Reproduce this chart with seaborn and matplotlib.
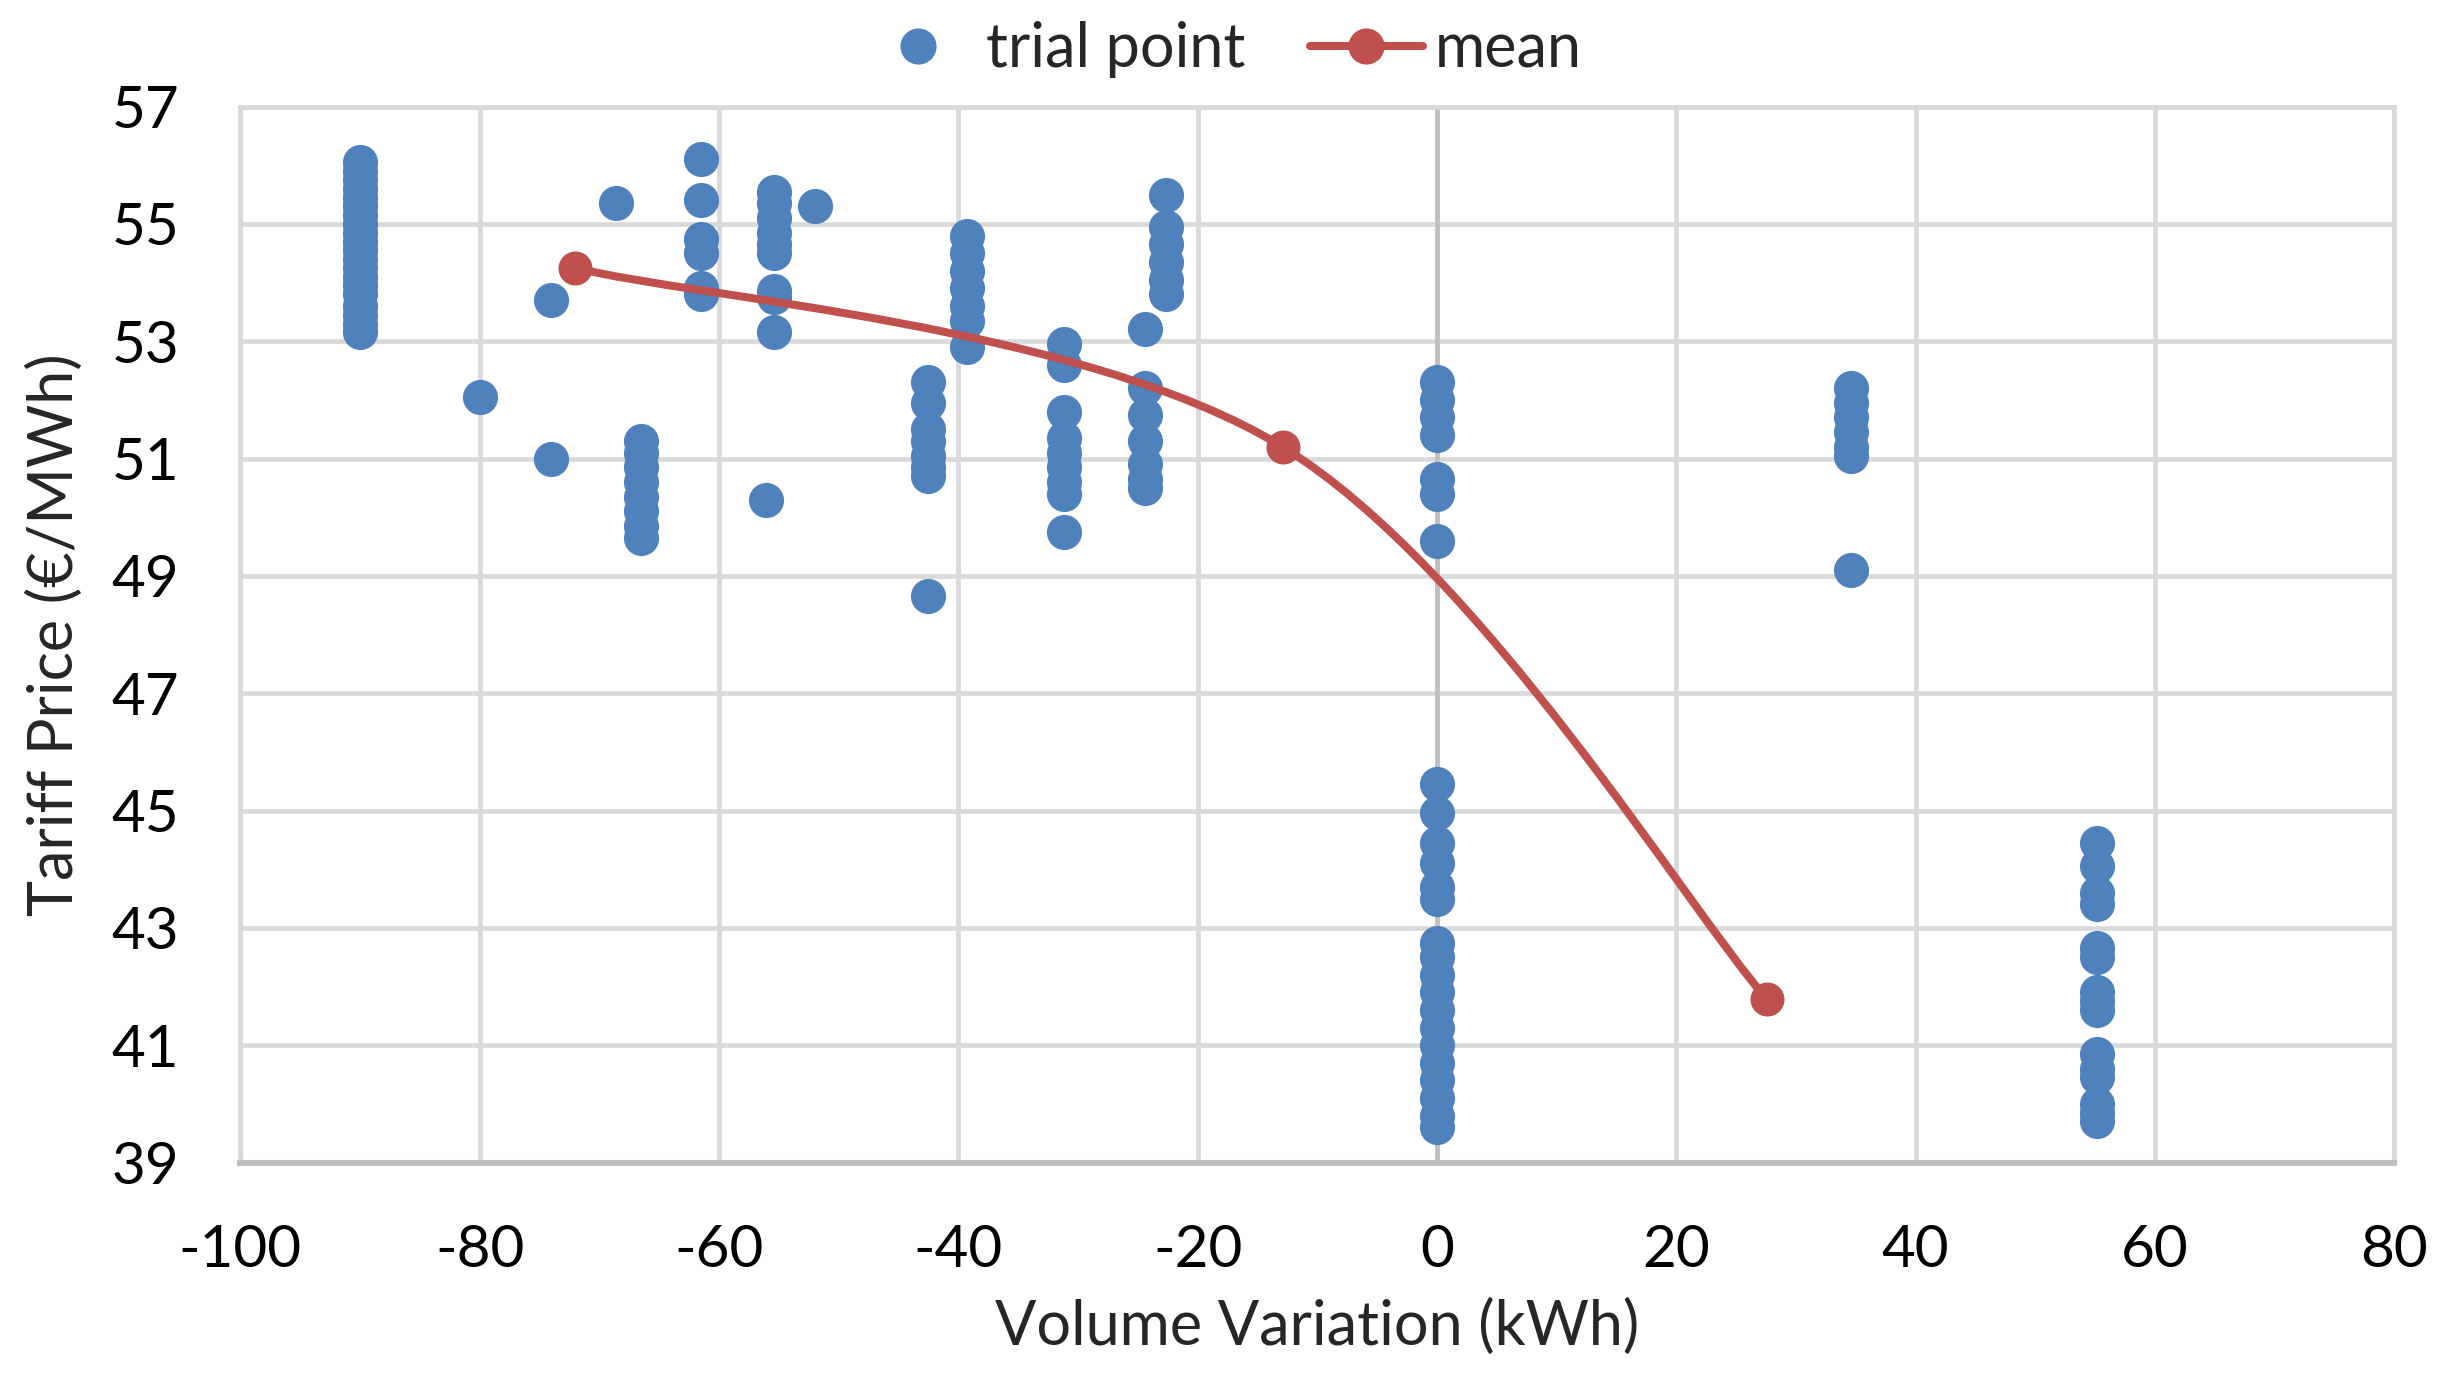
import pandas as pd
import seaborn as sns
import matplotlib.pyplot as plt
from matplotlib.path import Path
from matplotlib.patches import PathPatch
from matplotlib.lines import Line2D

# volume variation of each group of trials and the tariff prices seen there
trial_volumes = [-90, -80, -74, -68.6, -66.5, -61.5, -55.4, -56.1, -52,
                 -42.5, -39.3, -31.2, -24.4, -22.6, 0, 34.6, 55.2]
trial_prices = [
    [53.15, 53.3, 53.45, 53.6, 53.8, 53.95, 54.1, 54.25, 54.4, 54.55,
     54.7, 54.85, 55.0, 55.15, 55.3, 55.45, 55.6, 55.75, 55.9, 56.05],
    [52.05],
    [53.7, 51.0],
    [55.35],
    [51.3, 51.1, 50.85, 50.6, 50.35, 50.1, 49.85, 49.65],
    [56.1, 55.4, 54.75, 54.5, 53.9, 53.8],
    [55.55, 55.35, 55.1, 54.85, 54.65, 54.5, 53.85, 53.75, 53.15],
    [50.3],
    [55.3],
    [52.3, 51.95, 51.5, 51.3, 51.05, 50.85, 50.7, 48.65],
    [54.8, 54.5, 54.2, 53.9, 53.6, 53.35, 52.9],
    [52.95, 52.6, 51.8, 51.35, 51.1, 50.85, 50.6, 50.4, 49.75],
    [53.2, 52.2, 51.75, 51.3, 50.9, 50.65, 50.5],
    [55.5, 54.95, 54.65, 54.35, 54.05, 53.8],
    [52.3, 52.0, 51.7, 51.4, 50.65, 50.4, 49.6, 45.45, 44.95, 44.45,
     44.1, 43.7, 43.5, 42.75, 42.5, 42.2, 41.9, 41.6, 41.3, 41.0,
     40.7, 40.4, 40.1, 39.8, 39.6],
    [52.2, 51.95, 51.7, 51.45, 51.2, 51.05, 49.1],
    [44.45, 44.05, 43.6, 43.4, 42.65, 42.5, 41.9, 41.75, 41.6, 40.85,
     40.6, 40.45, 40.0, 39.85, 39.7],
]

mean_volume = [-72.0, -12.9, 27.6]
mean_price = [54.25, 51.2, 41.78]

x_ticks = [-100, -80, -60, -40, -20, 0, 20, 40, 60, 80]
y_ticks = [39, 41, 43, 45, 47, 49, 51, 53, 55, 57]

blue = '#4F81BD'
red = '#C0504D'
grid = '#D9D9D9'

rows = []
for v, prices in zip(trial_volumes, trial_prices):
    for p in prices:
        rows.append({'volume': v, 'price': p})
trials = pd.DataFrame(rows)
means = pd.DataFrame({'volume': mean_volume, 'price': mean_price})

sns.set_style('white')
plt.rcParams['font.family'] = ['Lato', 'DejaVu Sans']
plt.rcParams['axes.unicode_minus'] = False

fig = plt.figure(figsize=(12.265, 6.92), dpi=200)
ax = fig.add_axes([0.098, 0.16, 0.878, 0.763])

ax.set_axisbelow(True)
ax.grid(True, color=grid, linewidth=1.7)
ax.axvline(0, color='#BFBFBF', linewidth=1.7, zorder=1)

sns.scatterplot(data=trials, x='volume', y='price', ax=ax, color=blue,
                s=160, linewidth=0, zorder=3, legend=False)

# excel style smoothed line through the means (catmull-rom as bezier)
pts = list(zip(mean_volume, mean_price))
verts = [pts[0]]
codes = [Path.MOVETO]
for i in range(len(pts) - 1):
    p0 = pts[i - 1] if i > 0 else pts[i]
    p1 = pts[i]
    p2 = pts[i + 1]
    p3 = pts[i + 2] if i + 2 < len(pts) else pts[i + 1]
    c1 = (p1[0] + (p2[0] - p0[0]) / 6, p1[1] + (p2[1] - p0[1]) / 6)
    c2 = (p2[0] - (p3[0] - p1[0]) / 6, p2[1] - (p3[1] - p1[1]) / 6)
    verts += [c1, c2, p2]
    codes += [Path.CURVE4] * 3
ax.add_patch(PathPatch(Path(verts, codes), facecolor='none', edgecolor=red,
                       linewidth=2.9, zorder=4))
sns.scatterplot(data=means, x='volume', y='price', ax=ax, color=red,
                s=150, linewidth=0, zorder=5, legend=False)

ax.set_xlim(-100, 80)
ax.set_ylim(39, 57)
ax.set_xticks(x_ticks)
ax.set_yticks(y_ticks)
ax.tick_params(axis='both', labelsize=21, length=0, colors='black')
ax.tick_params(axis='y', pad=22)
ax.tick_params(axis='x', pad=22)
for side in ['left', 'right', 'top']:
    ax.spines[side].set_color(grid)
    ax.spines[side].set_linewidth(1.7)
ax.spines['bottom'].set_color('#BFBFBF')
ax.spines['bottom'].set_linewidth(2.2)

ax.set_xlabel('Volume Variation (kWh)', fontsize=22, labelpad=8)
ax.set_ylabel('Tariff Price (€/MWh)', fontsize=22, labelpad=10)

handles = [
    Line2D([], [], marker='o', linestyle='none', color=blue, markersize=12),
    Line2D([], [], marker='o', color=red, linewidth=2.9, markersize=12),
]
fig.legend(handles, ['trial point', 'mean'], loc='center',
           bbox_to_anchor=(0.498, 0.964), ncol=2, frameon=False,
           fontsize=22, handlelength=1.85, columnspacing=1.05,
           handletextpad=0.2)

plt.savefig('out.png')
